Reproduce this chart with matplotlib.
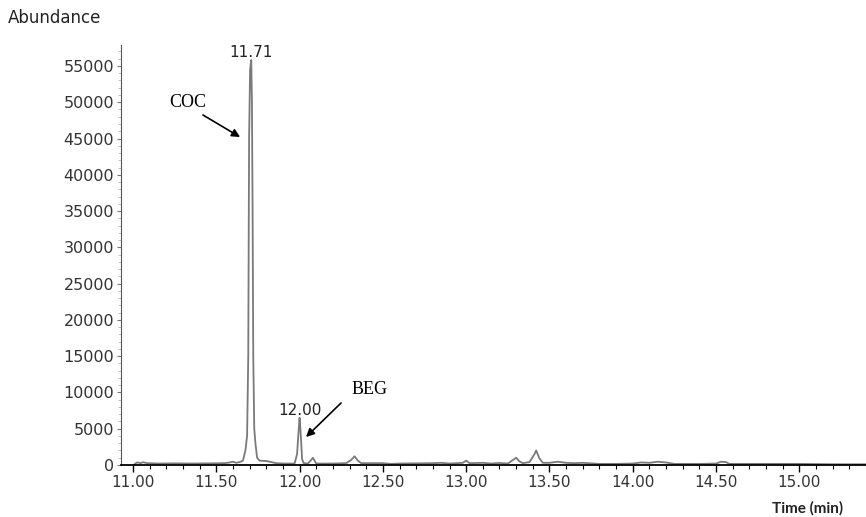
import numpy as np
import matplotlib
matplotlib.use('Agg')
import matplotlib.pyplot as plt
from matplotlib.ticker import MultipleLocator, FormatStrFormatter

# chromatogram trace (time in min, abundance)
time = [11.01, 11.02, 11.03, 11.045, 11.06, 11.075, 11.09, 11.15, 11.25, 11.35,
        11.45, 11.55, 11.58, 11.60, 11.62, 11.64, 11.66, 11.675, 11.685, 11.692,
        11.697, 11.703, 11.71, 11.714, 11.718, 11.722, 11.728, 11.735, 11.745,
        11.76, 11.80, 11.83, 11.86, 11.90, 11.97, 11.985, 11.995, 12.00, 12.005,
        12.01, 12.015, 12.025, 12.05, 12.07, 12.08, 12.09, 12.10, 12.20, 12.28,
        12.31, 12.33, 12.35, 12.37, 12.50, 12.55, 12.60, 12.80, 12.85, 12.90,
        12.98, 13.00, 13.02, 13.10, 13.15, 13.20, 13.25, 13.30, 13.32, 13.34,
        13.38, 13.41, 13.42, 13.44, 13.46, 13.50, 13.55, 13.60, 13.65, 13.70,
        13.80, 13.90, 14.00, 14.05, 14.10, 14.15, 14.20, 14.25, 14.40, 14.50,
        14.53, 14.56, 14.58, 14.80, 15.00, 15.20, 15.40]
abundance = [100, 300, 350, 250, 380, 300, 250, 200, 220, 200,
             220, 250, 350, 450, 300, 400, 600, 2000, 4000, 15000,
             45000, 54500, 55800, 50000, 35000, 15000, 5000, 3000, 1000,
             600, 550, 400, 250, 200, 200, 1500, 5000, 6500, 5000,
             3000, 800, 250, 200, 700, 1000, 600, 200, 200, 250,
             700, 1200, 600, 250, 250, 150, 200, 250, 300, 200,
             300, 600, 250, 300, 200, 280, 200, 1000, 500, 250,
             400, 1500, 2000, 900, 300, 300, 450, 300, 250, 300,
             150, 150, 200, 350, 300, 450, 350, 150, 150, 200,
             450, 400, 150, 150, 150, 100, 100]

peak_labels = ['11.71', '12.00']
peak_times = [11.71, 12.00]
peak_heights = [55800, 6500]

fig = plt.figure(figsize=(8.66, 5.17), dpi=100, facecolor='w')
ax = fig.add_axes([0.1397, 0.1006, 0.8603, 0.8124])

ax.plot(time, abundance, color='#7a7a7a', lw=1.3)
ax.set_xlim(10.928, 15.40)
ax.set_ylim(0, 57890)

for s in ['top', 'right']:
    ax.spines[s].set_visible(False)
ax.spines['left'].set_color('#555555')
ax.spines['bottom'].set_color('black')
ax.spines['bottom'].set_linewidth(1.3)

ax.xaxis.set_major_locator(MultipleLocator(0.5))
ax.xaxis.set_minor_locator(MultipleLocator(0.1))
ax.xaxis.set_major_formatter(FormatStrFormatter('%.2f'))
ax.yaxis.set_major_locator(MultipleLocator(5000))
ax.yaxis.set_minor_locator(MultipleLocator(1000))
ax.tick_params(axis='x', which='major', direction='out', length=5, width=1,
               labelsize=11, labelcolor='#333333', pad=2)
ax.tick_params(axis='x', which='minor', direction='out', length=3, width=0.8)
ax.tick_params(axis='y', which='major', direction='out', length=3, width=0.8,
               color='#777777', labelsize=11.5, labelcolor='#333333', pad=2)
ax.tick_params(axis='y', which='minor', direction='out', length=2, width=0.5,
               color='#aaaaaa')

for lab, t, h in zip(peak_labels, peak_times, peak_heights):
    ax.text(t, h, lab, ha='center', va='bottom', fontsize=11, color='#222222')

# arrows drawn from tail to head, labels placed beside the tails
ax.annotate('', xy=(11.643, 45200), xytext=(11.42, 48240),
            arrowprops=dict(arrowstyle='-|>', color='black', lw=1.2,
                            mutation_scale=12, shrinkA=0, shrinkB=0))
ax.text(11.33, 50030, 'COC', fontsize=13, family='Liberation Serif',
        ha='center', va='center')
ax.annotate('', xy=(12.039, 3860), xytext=(12.249, 8546),
            arrowprops=dict(arrowstyle='-|>', color='black', lw=1.2,
                            mutation_scale=12, shrinkA=0, shrinkB=0))
ax.text(12.423, 10340, 'BEG', fontsize=13, family='Liberation Serif',
        ha='center', va='center')

fig.text(8 / 866, 1 - 18 / 517, 'Abundance', fontsize=12, color='#222222',
         ha='left', va='center')
fig.text(808 / 866, 1 - 508 / 517, 'Time (min)', fontsize=11, family='Lato',
         fontweight='bold', color='#222222', ha='center', va='center')

plt.savefig('out.png', dpi=100)
